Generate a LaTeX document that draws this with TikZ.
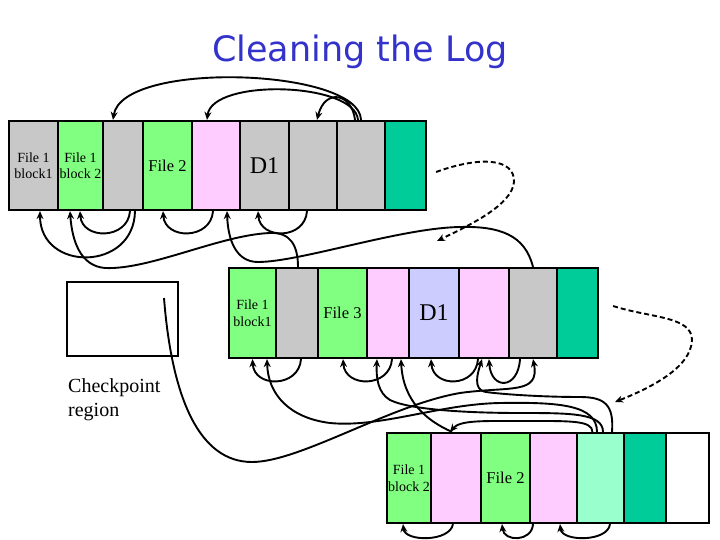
\documentclass[tikz,border=0pt]{standalone}
\usepackage{fontspec}
\setmainfont{Liberation Serif}
\newfontfamily\titlefont{DejaVu Sans}
\usetikzlibrary{arrows.meta}

\definecolor{logGray}{RGB}{200,200,200}
\definecolor{logGreen}{RGB}{128,255,128}
\definecolor{logPink}{RGB}{255,204,255}
\definecolor{logTeal}{RGB}{0,204,153}
\definecolor{logLav}{RGB}{204,204,255}
\definecolor{logMint}{RGB}{153,255,204}
\definecolor{titleBlue}{RGB}{51,51,204}

\newcommand{\bigD}{\fontsize{24}{28}\selectfont}
\newcommand{\midF}{\fontsize{16.5}{19}\selectfont}

\tikzset{
  cell/.style={draw, line width=2.2pt, inner sep=0pt, minimum height=90pt, align=center,
    font=\fontsize{14}{16.5}\selectfont},
  ptr/.style={line width=1.9pt, -{Stealth[length=8pt,width=7pt]}},
  dashptr/.style={ptr, dash pattern=on 5pt off 3pt},
}

\begin{document}
\begin{tikzpicture}[x=1pt,y=1pt,yscale=-1]
  \path[fill=white, use as bounding box] (0,0) rectangle (720,540);

  % title
  \node[font=\titlefont\fontsize{35}{40}\selectfont, text=titleBlue, anchor=base] (title) at (360,62) {Cleaning the Log};

  % old segment
  \foreach \l/\r/\fillc/\txt [count=\i, evaluate=\l as \cx using (\l+\r)/2, evaluate=\l as \w using \r-\l] in
    {9/58/logGray/{File 1\\block1}, 58/103/logGreen/{File 1\\block 2}, 103/143/logGray/{},
     143/192/logGreen/{\midF File 2}, 192/240/logPink/{}, 240/289/logGray/{\bigD D1},
     289/337/logGray/{}, 337/385/logGray/{}, 385/426/logTeal/{}}
    \node[cell, fill=\fillc, minimum width=\w pt, minimum height=89pt] (r1c\i) at (\cx,165.5) {\txt};

  % second segment
  \foreach \l/\r/\fillc/\txt [count=\i, evaluate=\l as \cx using (\l+\r)/2, evaluate=\l as \w using \r-\l] in
    {229/276/logGreen/{File 1\\block1}, 276/318/logGray/{}, 318/367/logGreen/{\midF File 3},
     367/409/logPink/{}, 409/459/logLav/{\bigD D1}, 459/509/logPink/{},
     509/557/logGray/{}, 557/598/logTeal/{}}
    \node[cell, fill=\fillc, minimum width=\w pt] (r2c\i) at (\cx,313) {\txt};

  % cleaned segment
  \foreach \l/\r/\fillc/\txt [count=\i, evaluate=\l as \cx using (\l+\r)/2, evaluate=\l as \w using \r-\l] in
    {387/431/logGreen/{File 1\\block 2}, 431/481/logPink/{}, 481/530/logGreen/{\midF File 2},
     530/577/logPink/{}, 577/624/logMint/{}, 624/666/logTeal/{}, 666/709/white/{}}
    \node[cell, fill=\fillc, minimum width=\w pt] (r3c\i) at (\cx,478) {\txt};

  % checkpoint
  \node[draw, line width=2pt, minimum width=111pt, minimum height=74pt] (ckpt) at (122.5,319) {};
  \node[anchor=west, align=left, inner sep=0pt, font=\fontsize{20}{24}\selectfont] (ckptText) at (68,400) {Checkpoint\\region};

  % pointers above the old segment
  \draw[ptr] (r1c8.north) .. controls (360,68) and (122,60) .. ([xshift=-10pt]r1c3.north);
  \draw[ptr] ([xshift=-3pt]r1c8.north) .. controls (355,82) and (212,78) .. ([xshift=-9pt]r1c5.north);
  \draw[ptr] ([xshift=-6pt]r1c8.north) .. controls (352,93) and (325,88) .. ([xshift=4pt]r1c7.north);

  % pointers below the old segment
  \draw[ptr] ([xshift=7pt]r1c3.south) .. controls (128,240) and (82,240) .. ([xshift=-0.5pt]r1c2.south);
  \draw[ptr] ([xshift=12pt]r1c3.south) .. controls (134,272) and (40,272) .. ([xshift=6.5pt]r1c1.south);
  \draw[ptr] ([xshift=-3pt]r1c5.south) .. controls (211,240) and (165,240) .. ([xshift=-4.5pt]r1c4.south);
  \draw[ptr] ([xshift=-6pt]r1c7.south) .. controls (305,240) and (260,240) .. ([xshift=-6.5pt]r1c6.south);
  \draw[ptr] ([xshift=1pt]r2c2.north) .. controls (298,245) and (290,232) .. (270,233)
    .. controls (220,235) and (150,270) .. (105,268) .. controls (80,266) and (72,240) .. ([xshift=-10.5pt]r1c2.south);
  \draw[ptr] (r2c7.north) .. controls (525,235) and (500,226) .. (460,227)
    .. controls (400,228) and (300,262) .. (258,262) .. controls (236,262) and (228,240) .. ([xshift=11pt]r1c5.south);

  % pointers below the second segment
  \draw[ptr] ([xshift=4pt]r2c2.south) .. controls (299,388) and (254,388) .. (r2c1.south);
  \draw[ptr] ([xshift=4pt]r2c4.south) .. controls (390,388) and (345,388) .. ([xshift=0.5pt]r2c3.south);
  \draw[ptr] ([xshift=-6pt]r2c6.south) .. controls (476,388) and (433,388) .. ([xshift=-3pt]r2c5.south);
  \draw[ptr] ([xshift=-13pt]r2c7.south) .. controls (518,390) and (491,390) .. ([xshift=5pt]r2c6.south);
  \draw[ptr] ([xshift=-4pt]r3c2.north) .. controls (425,420) and (403,400) .. ([xshift=13pt]r2c4.south);
  \draw[ptr] ([xshift=-3.5pt]r3c5.north) .. controls (597,405) and (560,402) .. (500,403)
    .. controls (440,404) and (380,428) .. (330,423) .. controls (290,418) and (268,395) .. ([xshift=14.5pt]r2c1.south);
  \draw[ptr] ([xshift=2.5pt]r3c5.north) .. controls (603,413) and (570,413) .. (520,413)
    .. controls (470,413) and (410,410) .. (390,400) .. controls (378,393) and (376,378) .. ([xshift=-11pt]r2c4.south);
  \draw[ptr] ([xshift=11.5pt]r3c5.north) .. controls (614,405) and (605,397) .. (580,397)
    .. controls (540,397) and (500,394) .. (486,392) .. controls (472,390) and (478,372) .. ([xshift=-2pt]r2c6.south);
  \draw[ptr] ([xshift=-8pt]r3c5.north) .. controls (592,420) and (570,421) .. (520,421)
    .. controls (485,421) and (460,420) .. ([xshift=-6pt]r3c2.north);
  \draw[ptr] ([xshift=41.5pt,yshift=-21pt]ckpt.center) .. controls (172,400) and (200,462) .. (252,462)
    .. controls (300,462) and (390,405) .. (460,393) .. controls (510,386) and (540,395) .. (r2c7.south);

  % pointers below the cleaned segment
  \draw[ptr] ([xshift=-3pt]r3c2.south) .. controls (450,542) and (405,542) .. ([xshift=-6pt]r3c1.south);
  \draw[ptr] ([xshift=-20.5pt]r3c4.south) .. controls (532,542) and (504,542) .. ([xshift=-3.5pt]r3c3.south);
  \draw[ptr] ([xshift=9.5pt]r3c5.south) .. controls (608,542) and (562,542) .. ([xshift=6.5pt]r3c4.south);

  % log continues
  \coordinate (dashTip1) at (437,241);
  \coordinate (dashTip2) at (615,402);
  \draw[dashptr] ([xshift=9pt,yshift=6.5pt]r1c9.east) .. controls (480,156) and (515,158) .. (514,182)
    .. controls (512,205) and (470,225) .. (dashTip1);
  \draw[dashptr] ([xshift=14pt,yshift=-7pt]r2c8.east) .. controls (650,318) and (692,316) .. (692,340)
    .. controls (691,368) and (650,388) .. (dashTip2);
\end{tikzpicture}
\end{document}
